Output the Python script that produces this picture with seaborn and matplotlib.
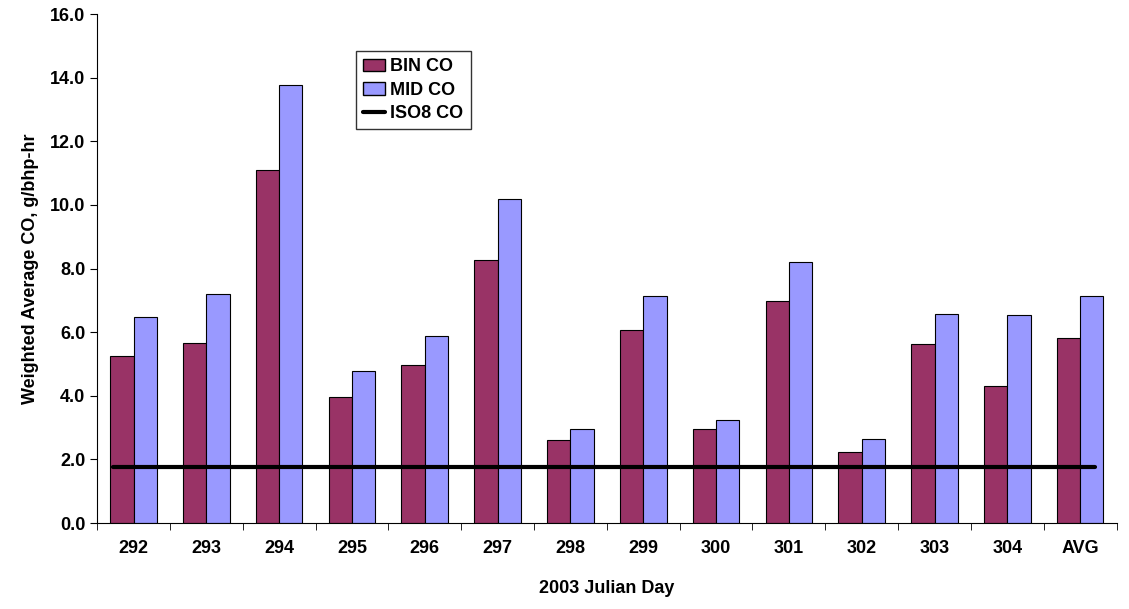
import numpy as np
import pandas as pd
import matplotlib
matplotlib.use('Agg')
import matplotlib.pyplot as plt
import seaborn as sns
from matplotlib.patches import Patch
from matplotlib.lines import Line2D

days = ['292', '293', '294', '295', '296', '297', '298', '299', '300', '301', '302', '303', '304', 'AVG']
bin_co = [5.25, 5.65, 11.1, 3.97, 4.98, 8.27, 2.6, 6.08, 2.95, 6.97, 2.25, 5.62, 4.32, 5.83]
mid_co = [6.48, 7.2, 13.78, 4.77, 5.87, 10.2, 2.97, 7.15, 3.25, 8.22, 2.63, 6.58, 6.55, 7.15]
iso8_co = 1.76

df = pd.DataFrame({'day': days * 2,
                   'co': bin_co + mid_co,
                   'series': ['BIN CO'] * len(days) + ['MID CO'] * len(days)})

sns.set_style('white')
plt.rcParams['font.family'] = ['Liberation Sans', 'DejaVu Sans']
plt.rcParams['font.weight'] = 'bold'
plt.rcParams['text.color'] = 'black'
plt.rcParams['axes.labelcolor'] = 'black'
plt.rcParams['xtick.color'] = 'black'
plt.rcParams['ytick.color'] = 'black'

fig, ax = plt.subplots(figsize=(11.29, 6.09), dpi=100)
fig.subplots_adjust(left=0.086, right=0.989, top=0.977, bottom=0.141)
palette = {'BIN CO': '#993366', 'MID CO': '#9999FF'}
sns.barplot(data=df, x='day', y='co', hue='series', palette=palette, width=0.64,
            gap=0, edgecolor='black', linewidth=0.8, saturation=1, ax=ax, legend=False)
ax.plot([-0.28, 13.2], [iso8_co, iso8_co], color='black', linewidth=3)

ax.set_ylim(0, 16)
ax.set_xlim(-0.5, 13.5)
ax.set_yticks(np.arange(0, 16.1, 2))
ax.set_yticklabels([f'{v:.1f}' for v in np.arange(0, 16.1, 2)])
ax.set_xticks(np.arange(-0.5, 13.6, 1), minor=True)
ax.tick_params(axis='x', which='major', length=0, labelsize=13, pad=12)
ax.tick_params(axis='x', which='minor', length=5, direction='out', bottom=True)
ax.tick_params(axis='y', labelsize=13, direction='out', length=5, left=True)
ax.set_xlabel('2003 Julian Day', fontsize=13, fontweight='bold', labelpad=17)
ax.set_ylabel('Weighted Average CO, g/bhp-hr', fontsize=13, fontweight='bold', labelpad=8)
for s in ['top', 'right']:
    ax.spines[s].set_visible(False)
for s in ['left', 'bottom']:
    ax.spines[s].set_color('black')

handles = [Patch(facecolor='#993366', edgecolor='black', label='BIN CO'),
           Patch(facecolor='#9999FF', edgecolor='black', label='MID CO'),
           Line2D([0], [0], color='black', linewidth=3, label='ISO8 CO')]
leg = ax.legend(handles=handles, loc='upper left', bbox_to_anchor=(0.245, 0.945),
                fontsize=13, frameon=True, fancybox=False, edgecolor='black',
                handlelength=1.2, handletextpad=0.3, borderpad=0.4, labelspacing=0.35)
leg.get_frame().set_linewidth(1)

fig.savefig('out.png', dpi=100)
